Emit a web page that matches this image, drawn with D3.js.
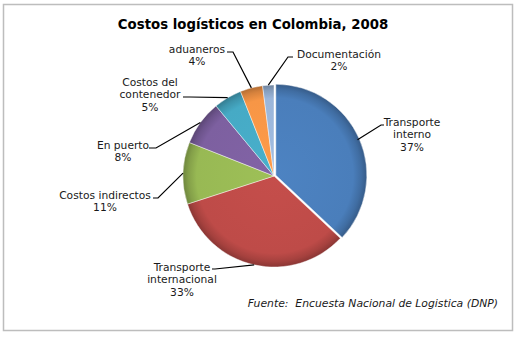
<!DOCTYPE html>
<html><head><meta charset="utf-8">
<script src="https://cdn.jsdelivr.net/npm/d3@7"></script>
<style>body{margin:0;background:#fff}svg{display:block}</style>
</head><body>
<script>
const title = "Costos logísticos en Colombia, 2008";
const categories = ["Transporte interno","Transporte internacional","Costos indirectos","En puerto","Costos del contenedor","aduaneros","Documentación"];
const labelLines = [["Transporte","interno"],["Transporte","internacional"],["Costos indirectos"],["En puerto"],["Costos del","contenedor"],["aduaneros"],["Documentación"]];
const values = [37,33,11,8,5,4,2];
const colors = ["#4A7EBB","#BE4B48","#98B954","#7D60A0","#46AAC5","#F79646","#9BB6DA"];
const source = "Fuente:  Encuesta Nacional de Logistica (DNP)";

// layout (not data): label text centre x, first-line centre y, elbow point
const labelLayout = [
  {x:412, y:122, ex:381, ey:125, hx:384},
  {x:182, y:267, ex:215, ey:269, hx:212},
  {x:105, y:195, ex:158, ey:198, hx:153},
  {x:123, y:145, ex:156, ey:148, hx:149},
  {x:150, y:82,  ex:190, ey:97,  hx:183},
  {x:197, y:49,  ex:233, ey:52,  hx:227},
  {x:339, y:54,  ex:288, ey:57,  hx:293}
];

const W=518,H=337, cx=274, cy=176, R=91;
const svg = d3.select("body").append("svg").attr("width",W).attr("height",H);
const defs = svg.append("defs");

svg.append("rect").attr("x",3.5).attr("y",4.5).attr("width",509).attr("height",326)
  .attr("fill","#fff").attr("stroke","#bdbdbd").attr("stroke-width",1.5);

svg.append("text").attr("x",253).attr("y",29).attr("text-anchor","middle")
  .attr("font-family","DejaVu Sans, Verdana, sans-serif").attr("font-weight","bold")
  .attr("font-size","13.3px").attr("fill","#000").text(title);

const pie = d3.pie().sort(null).value(d=>d)(values);
const arc = d3.arc().innerRadius(0).outerRadius(R);

colors.forEach((c,i)=>{
  const g = defs.append("radialGradient").attr("id","g"+i)
    .attr("gradientUnits","userSpaceOnUse").attr("cx",0).attr("cy",0).attr("r",R)
    .attr("fx",0).attr("fy",0);
  const base = d3.color(c);
  g.append("stop").attr("offset","0%").attr("stop-color",base.brighter(0.1));
  g.append("stop").attr("offset","85%").attr("stop-color",base);
  g.append("stop").attr("offset","94%").attr("stop-color",base.darker(0.4));
  g.append("stop").attr("offset","100%").attr("stop-color",base.darker(0.9));
});

const pg = svg.append("g").attr("transform",`translate(${cx},${cy})`);
pg.selectAll("path").data(pie).join("path")
  .attr("d",arc)
  .attr("transform",(d,i)=>{
    if(i!==0) return null;
    const a=(d.startAngle+d.endAngle)/2; const o=2;
    return `translate(${o*Math.sin(a)},${-o*Math.cos(a)})`;
  })
  .attr("fill",(d,i)=>`url(#g${i})`)
  .attr("stroke","rgba(255,255,255,0.55)").attr("stroke-width",0.8);

// leader lines
const lg = svg.append("g");
pie.forEach((d,i)=>{
  const a=(d.startAngle+d.endAngle)/2;
  const px=cx+R*Math.sin(a), py=cy-R*Math.cos(a);
  const L=labelLayout[i];
  lg.append("polyline").attr("points",`${px},${py} ${L.ex},${L.ey} ${L.hx},${L.ey}`)
    .attr("fill","none").attr("stroke","#000").attr("stroke-width",1.2);
});

// labels
const tg = svg.append("g").attr("font-family","DejaVu Sans, Verdana, sans-serif")
  .attr("font-size","10.7px").attr("fill","#1a1a1a").attr("text-anchor","middle");
labelLines.forEach((lines,i)=>{
  const L=labelLayout[i];
  const all = lines.concat([values[i]+"%"]);
  all.forEach((t,j)=>{
    tg.append("text").attr("x",L.x).attr("y",L.y+j*12.5).attr("dy","0.35em").text(t);
  });
});

svg.append("text").attr("x",498).attr("y",303).attr("dy","0.35em").attr("text-anchor","end")
  .attr("font-family","DejaVu Sans, Verdana, sans-serif").attr("font-style","italic")
  .attr("font-size","10.8px").attr("fill","#1a1a1a").attr("xml:space","preserve")
  .style("white-space","pre").text(source);
</script>
</body></html>
